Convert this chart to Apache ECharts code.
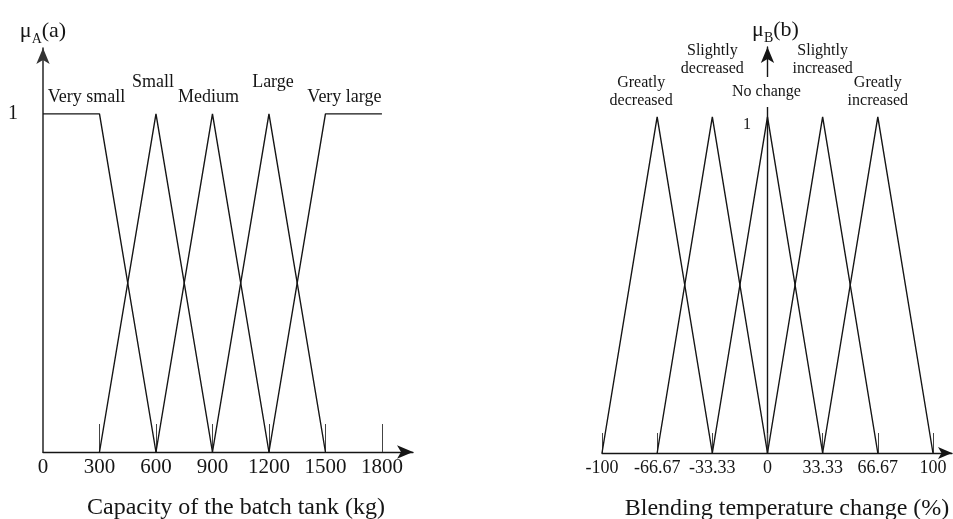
<!DOCTYPE html>
<html><head><meta charset="utf-8">
<script src="https://cdn.jsdelivr.net/npm/echarts@6/dist/echarts.min.js"></script>
<style>html,body{margin:0;padding:0;background:#fff}#c{width:953px;height:519px}</style>
</head><body><div id="c"></div>
<script>
// Left panel: capacity of the batch tank (kg)
const leftTicks = [0, 300, 600, 900, 1200, 1500, 1800];
const leftNames = ['Very small', 'Small', 'Medium', 'Large', 'Very large'];
const leftSets = [
  [[0, 1], [300, 1], [600, 0]],
  [[300, 0], [600, 1], [900, 0]],
  [[600, 0], [900, 1], [1200, 0]],
  [[900, 0], [1200, 1], [1500, 0]],
  [[1200, 0], [1500, 1], [1800, 1]]
];
// Right panel: blending temperature change (%)
const rightTicks = [-100, -66.67, -33.33, 0, 33.33, 66.67, 100];
const rightNames = ['Greatly\ndecreased', 'Slightly\ndecreased', 'No change', 'Slightly\nincreased', 'Greatly\nincreased'];
const rightSets = [
  [[-100, 0], [-66.67, 1], [-33.33, 0]],
  [[-66.67, 0], [-33.33, 1], [0, 0]],
  [[-33.33, 0], [0, 1], [33.33, 0]],
  [[0, 0], [33.33, 1], [66.67, 0]],
  [[33.33, 0], [66.67, 1], [100, 0]]
];

const FONT = "'Liberation Serif', 'DejaVu Serif', serif";
const INK = '#151515';
const leftOffsets = [[-13, -17], [-3, -32], [-4, -17], [4, -32], [19, -17]];
const rightOffsets = [[-16, -25], [0, -57], [-1, -25], [0, -57], [0, -25]];

function makeSeries(names, sets, offsets, axisIdx, fontSize) {
  return sets.map((pts, k) => ({
    type: 'line',
    name: names[k],
    xAxisIndex: axisIdx, yAxisIndex: axisIdx,
    symbol: 'circle', symbolSize: 0, showSymbol: true,
    silent: true,
    lineStyle: { color: INK, width: 1.4 },
    itemStyle: { color: INK },
    emphasis: { disabled: true },
    data: pts.map((p, i) => i === 1 ? {
      value: p,
      label: {
        show: true, position: 'inside', offset: offsets[k],
        formatter: '{a}', fontFamily: FONT, fontSize: fontSize, color: INK,
        lineHeight: fontSize + 2, align: 'center', verticalAlign: 'middle',
        backgroundColor: names[k] === 'No change' ? '#fff' : 'transparent',
        padding: names[k] === 'No change' ? [6, 2, 6, 2] : 0
      }
    } : p)
  }));
}

const plain = v => String(v);
const nameRich = {
  m: { fontFamily: FONT, fontSize: 22, lineHeight: 22, color: INK, verticalAlign: 'top' },
  s: { fontFamily: FONT, fontSize: 14, lineHeight: 14, color: INK, verticalAlign: 'top', padding: [12, 0, 0, 0] }
};

const chart = echarts.init(document.getElementById('c'));
chart.setOption({
  animation: false,
  backgroundColor: '#fff',
  grid: [
    { left: 43, width: 370, top: 48, bottom: 67, outerBoundsMode: 'none', containLabel: false },
    { left: 602, width: 350, top: 47, bottom: 66, outerBoundsMode: 'none', containLabel: false }
  ],
  xAxis: [
    {
      type: 'value', gridIndex: 0, min: 0, max: 1965,
      axisLine: { lineStyle: { color: INK, width: 1.4 }, symbol: ['none', 'arrow'], symbolSize: [10, 16] },
      axisTick: { show: true, inside: true, length: 28, customValues: leftTicks.slice(1), lineStyle: { color: '#444', width: 1 } },
      axisLabel: { customValues: leftTicks, formatter: plain, fontFamily: FONT, fontSize: 21, color: INK, margin: 5 },
      splitLine: { show: false },
      name: 'Capacity of the batch tank (kg)', nameLocation: 'middle', nameGap: 44,
      nameTextStyle: { fontFamily: FONT, fontSize: 24, color: INK, padding: [0, 0, 0, 16] }
    },
    {
      type: 'value', gridIndex: 1, min: -100, max: 111.5,
      axisLine: { lineStyle: { color: INK, width: 1.4 }, symbol: ['none', 'arrow'], symbolSize: [9, 14] },
      axisTick: { show: true, inside: true, length: 20, customValues: rightTicks, lineStyle: { color: '#444', width: 1 } },
      axisLabel: { customValues: rightTicks, formatter: plain, fontFamily: FONT, fontSize: 18, color: INK, margin: 6 },
      splitLine: { show: false },
      name: 'Blending temperature change (%)', nameLocation: 'middle', nameGap: 44,
      nameTextStyle: { fontFamily: FONT, fontSize: 24, color: INK, padding: [0, 0, 0, 20] }
    }
  ],
  yAxis: [
    {
      type: 'value', gridIndex: 0, min: 0, max: 1.195,
      axisLine: { show: true, lineStyle: { color: '#333', width: 1.6 }, symbol: ['none', 'arrow'], symbolSize: [10, 16] },
      axisTick: { show: false },
      axisLabel: { customValues: [1], fontFamily: FONT, fontSize: 20, color: INK, margin: 25, padding: [5, 0, 0, 0] },
      splitLine: { show: false },
      name: '{m|μ}{s|A}{m|(a)}', nameLocation: 'end', nameGap: 6,
      nameTextStyle: { align: 'center', rich: nameRich }
    },
    {
      type: 'value', gridIndex: 1, min: 0, max: 1.208,
      axisLine: { show: true, onZero: true, lineStyle: { color: INK, width: 1.4 }, symbol: ['none', 'arrow'], symbolSize: [10, 16] },
      axisTick: { show: false },
      axisLabel: { customValues: [1], fontFamily: FONT, fontSize: 16, color: INK, margin: -149, verticalAlign: 'top' },
      splitLine: { show: false },
      name: '{m|μ}{s|B}{m|(b)}', nameLocation: 'end', nameGap: 6,
      nameTextStyle: { align: 'center', padding: [0, 0, 0, 16], rich: nameRich }
    }
  ],
  series: makeSeries(leftNames, leftSets, leftOffsets, 0, 18)
    .concat(makeSeries(rightNames, rightSets, rightOffsets, 1, 16))
});
</script></body></html>
